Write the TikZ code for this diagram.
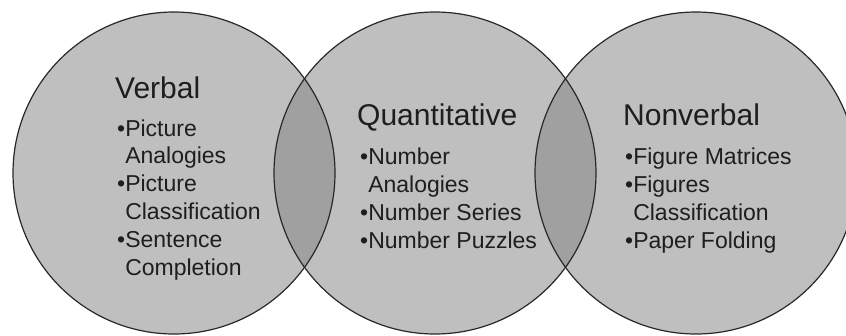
\documentclass[tikz,border=0pt]{standalone}
\usepackage{fontspec}
\setmainfont{Liberation Sans}
\definecolor{ringfill}{RGB}{191,191,191}
\definecolor{lensfill}{RGB}{160,160,160}
\definecolor{ringline}{RGB}{40,40,40}
\definecolor{inktext}{RGB}{30,30,30}
\tikzset{
  ring/.style={draw=ringline, line width=1.2pt},
  headline/.style={anchor=base west, inner sep=0pt, text=inktext,
    font=\fontsize{30}{36}\selectfont},
  itemlist/.style={anchor=base west, inner sep=0pt, align=left, text=inktext,
    font=\fontsize{23}{27.8}\selectfont},
}
\newcommand{\itm}{\textbullet}
\newcommand{\cont}{\phantom{\textbullet}}
\begin{document}
\begin{tikzpicture}[x=1pt,y=-1pt]
  \useasboundingbox (0,0) rectangle (846,335);
  \def\rad{161}
  % circles
  \foreach \cx in {174,435,696}
    \fill[ringfill] (\cx,173) circle (\rad);
  % overlaps
  \begin{scope}
    \clip (174,173) circle (\rad);
    \fill[lensfill] (435,173) circle (\rad);
  \end{scope}
  \begin{scope}
    \clip (435,173) circle (\rad);
    \fill[lensfill] (696,173) circle (\rad);
  \end{scope}
  \foreach \cx in {174,435,696}
    \draw[ring] (\cx,173) circle (\rad);
  % texts (lists sit on the baseline of their last line)
  \node[headline] (verbalhead) at (115,98) {Verbal};
  \node[itemlist] (verballist) at (117,275)
    {\itm Picture\\ \cont Analogies\\ \itm Picture\\ \cont Classification\\
     \itm Sentence\\ \cont Completion};
  \node[headline] (quanthead) at (357,125) {Quantitative};
  \node[itemlist] (quantlist) at (360,248)
    {\itm Number\\ \cont Analogies\\ \itm Number Series\\ \itm Number Puzzles};
  \node[headline] (nonverbhead) at (623,125) {Nonverbal};
  \node[itemlist] (nonverblist) at (625,248)
    {\itm Figure Matrices\\ \itm Figures\\ \cont Classification\\ \itm Paper Folding};
\end{tikzpicture}
\end{document}
